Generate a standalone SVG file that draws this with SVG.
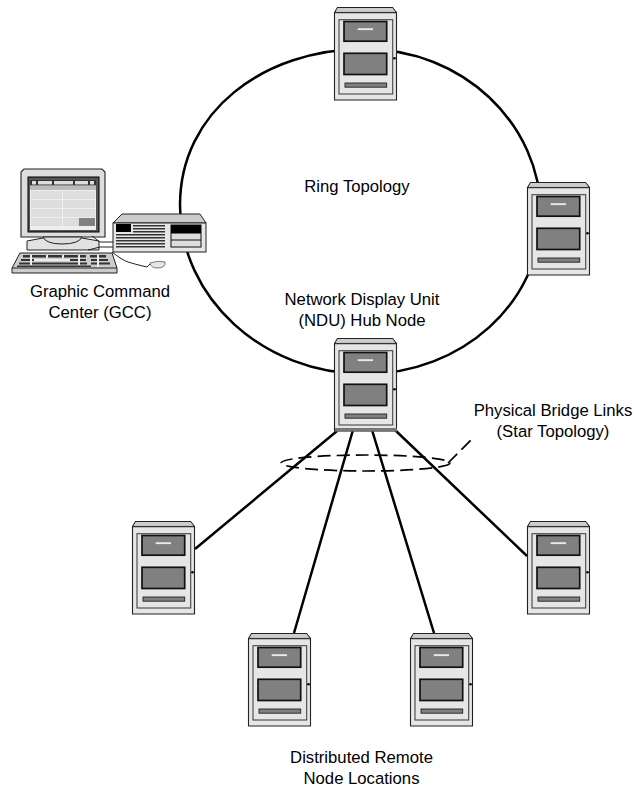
<svg xmlns="http://www.w3.org/2000/svg" width="634" height="788" viewBox="0 0 634 788">
<style>
text{font-family:"Liberation Sans",Arial,sans-serif;font-size:16.7px;fill:#000;text-anchor:middle}
.l{fill:none;stroke:#000;stroke-width:2.5}
</style>
<defs>
<g id="srv">
<path d="M0.5 5.500L3.500 0.500H58.500L62.500 5.500V93H0.500Z" fill="#e6e6e6" stroke="#222" stroke-width="1.100"/>
<path d="M1 5.500H62" stroke="#333" stroke-width="1.400"/>
<path d="M4 1H58L61 4.500H2Z" fill="#ccc"/>
<rect x="5" y="12.700" width="53.700" height="74.300" fill="#e6e6e6" stroke="#444" stroke-width="1.100"/>
<rect x="10" y="14.500" width="42.700" height="19.700" fill="#808080" stroke="#111" stroke-width="1.700"/>
<rect x="23.700" y="21.200" width="15.300" height="1.900" fill="#e8e8e8"/>
<rect x="10" y="46.300" width="42.700" height="21.200" fill="#808080" stroke="#111" stroke-width="1.700"/>
<rect x="11" y="76" width="41.700" height="4.200" fill="#808080" stroke="#222" stroke-width="0.900"/>
<circle cx="60.500" cy="51.300" r="1.300" fill="#000"/>
</g>
</defs>
<g id="connectors">
<path class="l" d="M365 49C462 49 541 123 541 215C541 302 462 374 365 374C263 374 180 298 180 205C180 112 263 49 365 49Z"/>
<path class="l" d="M337 431L195 549M353 430L294 633M372 430L434 633M395 430L527 556"/>
<g fill="none" stroke="#000" stroke-width="1.700" stroke-dasharray="13 6">
<ellipse cx="365.500" cy="463" rx="84.500" ry="8"/>
<path d="M448 463L473 438"/>
</g>
</g>
<g id="ndu-hub"><use href="#srv" x="334" y="338"/><rect x="335" y="428" width="62" height="3.500" fill="#777"/></g>
<g id="ring-top"><use href="#srv" x="334" y="7"/></g>
<g id="ring-right"><use href="#srv" x="527" y="182"/></g>
<g id="remote-1"><use href="#srv" x="132" y="521"/></g>
<g id="remote-2"><use href="#srv" x="248" y="633"/></g>
<g id="remote-3"><use href="#srv" x="410" y="633"/></g>
<g id="remote-4"><use href="#srv" x="527" y="521"/></g>
<g id="gcc">
<path d="M24 169H102L105 172V237H21V172Z" fill="#ddd" stroke="#222" stroke-width="1.100"/>
<rect x="28" y="177" width="71" height="55" fill="#555" stroke="#000"/>
<rect x="30" y="180" width="66" height="50" fill="#eee"/>
<rect x="30" y="180" width="66" height="5.500" fill="#333"/>
<path d="M32 181h4v3.500h-4zM38 181h14v3.500H38zM54 181h19v3.500H54zM75 181h13v3.500H75zM90 181h4v3.500h-4z" fill="#ddd"/>
<rect x="30" y="186" width="66" height="4" fill="#bbb"/>
<g fill="#ddd"><rect x="31" y="191" width="31" height="8"/><rect x="63" y="191" width="32" height="8"/><rect x="31" y="200" width="31" height="8"/><rect x="63" y="200" width="32" height="8"/><rect x="31" y="209" width="31" height="8"/><rect x="63" y="209" width="32" height="8"/><rect x="31" y="218" width="31" height="8"/><rect x="63" y="218" width="16" height="8"/></g>
<rect x="79" y="218" width="16" height="8" fill="#808080"/>
<path d="M27 241L43 238H82L99 241V250H27Z" fill="#e2e2e2" stroke="#222"/>
<path d="M43 237Q46 244 62 244Q79 244 82 237Z" fill="#ddd" stroke="#222"/>
<path d="M20 253H112L117 268V273H12V268Z" fill="#ccc" stroke="#222"/>
<path d="M12 268H117" stroke="#222"/>
<path d="M23 255h63v2.500H23zM21 259h65v2H21zM19 262.500h68v2H19zM90 255h16v2.500H90zM91 259h17v2H91zM91 262.500h19v2H91zM17 265.500h74v1.500H17z" fill="#333"/>
<path d="M30 255h2v10h-2zM46 255h2v3h-2zM62 255h2v3h-2zM78 255h2v10h-2zM34 259h36v2H34zM97 255h2v12h-2z" fill="#eee"/>
<path d="M92 236L100 242H113M88 250L100 247H113M112 252Q122 260 128 262T147 267Q149 265 151 263" fill="none" stroke="#222"/>
<path d="M150 263Q158 260 165 262Q166 268 157 268Q151 268 150 263Z" fill="#e6e6e6" stroke="#777"/>
<path d="M113 223L122 214H200L206 223Z" fill="#ccc" stroke="#222"/>
<rect x="113" y="223" width="93" height="29" fill="#e6e6e6" stroke="#222"/>
<rect x="116" y="224" width="15" height="8" fill="#000"/>
<path d="M133 225h32v1.500h-32zM133 228h32v1.500h-32zM133 231h32v1.500h-32zM116 234h49v1.500H116zM116 237h49v1.500H116zM116 240h49v1.500H116zM116 243h49v1.500H116zM116 246h49v1.500H116z" fill="#333"/>
<rect x="171" y="225" width="30" height="22" fill="#ddd" stroke="#111"/>
<rect x="171" y="225" width="30" height="8.500" fill="#000"/>
<path d="M171 240H201" stroke="#111"/>
</g>
<g id="labels">
<text x="357" y="192">Ring Topology</text>
<text x="100" y="297">Graphic Command</text>
<text x="100" y="318">Center (GCC)</text>
<text x="362" y="305">Network Display Unit</text>
<text x="362" y="326">(NDU) Hub Node</text>
<text x="553" y="416">Physical Bridge Links</text>
<text x="553" y="437">(Star Topology)</text>
<text x="361.500" y="763">Distributed Remote</text>
<text x="361.500" y="784">Node Locations</text>
</g>
</svg>
